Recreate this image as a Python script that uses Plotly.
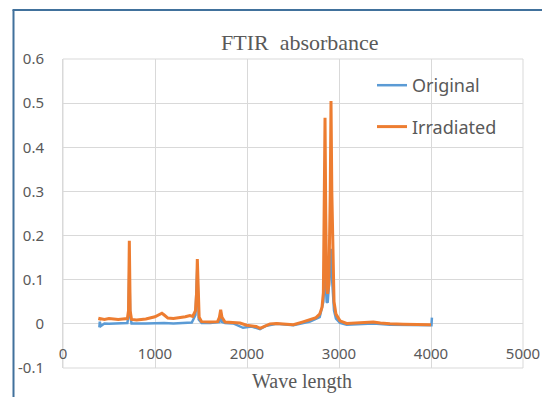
import plotly.graph_objects as go

# ---- data ----
irr_x = [395, 400, 450, 500, 550, 600, 650, 700, 712, 721, 730, 745, 800, 900, 1000,
         1050, 1075, 1100, 1140, 1200, 1270, 1330, 1380, 1410, 1440, 1452, 1460, 1468,
         1480, 1507, 1550, 1600, 1680, 1700, 1714, 1728, 1761, 1850, 1924, 1996, 2050,
         2100, 2141, 2200, 2250, 2322, 2400, 2504, 2600, 2685, 2750, 2790, 2815, 2830,
         2840, 2848, 2856, 2866, 2877, 2890, 2905, 2913, 2922, 2935, 2946, 2967, 3011,
         3083, 3200, 3373, 3450, 3554, 3700, 3850, 3989, 4000]
irr_y = [0.008, 0.012, 0.010, 0.012, 0.011, 0.010, 0.011, 0.012, 0.030, 0.188, 0.030,
         0.010, 0.009, 0.011, 0.016, 0.022, 0.024, 0.020, 0.013, 0.012, 0.014, 0.016,
         0.019, 0.017, 0.030, 0.070, 0.147, 0.060, 0.015, 0.005, 0.004, 0.004, 0.005,
         0.015, 0.032, 0.015, 0.004, 0.003, 0.002, -0.003, -0.004, -0.006, -0.010,
         -0.004, 0.000, 0.001, 0.000, -0.002, 0.004, 0.009, 0.014, 0.022, 0.037, 0.070,
         0.250, 0.467, 0.250, 0.080, 0.068, 0.090, 0.300, 0.505, 0.300, 0.100, 0.050,
         0.022, 0.007, 0.001, 0.002, 0.004, 0.002, 0.000, -0.001, -0.001, -0.002, -0.002]

orig_x = [395, 400, 410, 450, 500, 600, 700, 712, 721, 730, 745, 900, 1000, 1100, 1200,
          1300, 1400, 1440, 1460, 1475, 1507, 1600, 1700, 1714, 1730, 1761, 1850, 1957,
          2050, 2141, 2200, 2322, 2504, 2685, 2790, 2830, 2848, 2866, 2877, 2895, 2905,
          2913, 2925, 2946, 2967, 3011, 3083, 3373, 3554, 3989, 4005, 4010]
orig_y = [-0.008, 0.005, -0.005, 0.001, 0.000, 0.001, 0.002, 0.020, 0.130, 0.020, 0.001,
          0.001, 0.002, 0.002, 0.001, 0.002, 0.003, 0.020, 0.130, 0.010, 0.002, 0.002,
          0.004, 0.020, 0.004, 0.002, 0.001, -0.009, -0.006, -0.012, -0.005, 0.000,
          -0.003, 0.005, 0.015, 0.050, 0.120, 0.050, 0.048, 0.100, 0.165, 0.170, 0.100,
          0.030, 0.012, 0.002, -0.002, 0.001, -0.002, -0.003, -0.003, 0.014]

x_ticks = [0, 1000, 2000, 3000, 4000, 5000]
y_ticks = [-0.1, 0, 0.1, 0.2, 0.3, 0.4, 0.5, 0.6]
y_tick_text = ["-0.1", "0", "0.1", "0.2", "0.3", "0.4", "0.5", "0.6"]

BLUE = "#5B9BD5"
ORANGE = "#ED7D31"
GRID = "#D9D9D9"
TXT = "#595959"
SANS = "Noto Sans, sans-serif"
SERIF = "Liberation Serif, Times New Roman, serif"

fig = go.Figure()
fig.add_trace(go.Scatter(x=orig_x, y=orig_y, mode="lines", name="Original",
                         legendgroup="a", line=dict(color=BLUE, width=2.5)))
fig.add_trace(go.Scatter(x=irr_x, y=irr_y, mode="lines", name="Irradiated",
                         legendgroup="b", line=dict(color=ORANGE, width=3)))

# the page body adds an 8px offset; work in reference window pixels
OFF = 8
WIN_W, WIN_H = 550, 397
PL, PR, PT, PB = 63, 523, 59, 368  # plot area in window pixels
W, H = WIN_W - OFF, WIN_H - OFF
L, T = PL - OFF, PT - OFF
R, B = (WIN_W - OFF) - (PR - OFF), (WIN_H - OFF) - (PB - OFF)
pw, ph = PR - PL, PB - PT


def px2x(px):
    return (px - PL) / pw


def py2y(py):
    return (PB - py) / ph


fig.update_layout(
    width=W, height=H,
    margin=dict(l=L, r=R, t=T, b=B, pad=0, autoexpand=False),
    paper_bgcolor="white", plot_bgcolor="white",
    font=dict(family=SANS, color=TXT, size=15),
    showlegend=True,
    legend=dict(x=px2x(372), y=py2y(67), xanchor="left", yanchor="top",
                bgcolor="rgba(0,0,0,0)", font=dict(size=18, color=TXT),
                tracegroupgap=15, traceorder="grouped"),
    xaxis=dict(range=[0, 5000], tickvals=x_ticks, showgrid=True, gridcolor=GRID,
               gridwidth=1, zeroline=False, showline=False, ticks="",
               anchor="free", position=py2y(343), tickfont=dict(size=15, color=TXT)),
    yaxis=dict(range=[-0.1, 0.6], tickvals=y_ticks, ticktext=y_tick_text,
               showgrid=True, gridcolor=GRID, gridwidth=1, zeroline=False,
               showline=True, linecolor=GRID, linewidth=1, ticks="",
               ticklabelstandoff=15, tickfont=dict(size=15, color=TXT)),
    shapes=[
        dict(type="rect", xref="paper", yref="paper", x0=0, x1=1, y0=0, y1=1,
             line=dict(color=GRID, width=1), layer="below"),
        dict(type="line", xref="paper", yref="paper", x0=px2x(13.5), x1=px2x(13.5),
             y0=py2y(10), y1=py2y(420), line=dict(color="#41719C", width=2)),
        dict(type="line", xref="paper", yref="paper", x0=px2x(12.5), x1=px2x(580),
             y0=py2y(10), y1=py2y(10), line=dict(color="#41719C", width=2)),
    ],
    annotations=[
        dict(text="FTIR  absorbance", xref="paper", yref="paper", x=px2x(300),
             y=py2y(42), xanchor="center", yanchor="middle", showarrow=False,
             font=dict(family=SERIF, size=22, color=TXT)),
        dict(text="Wave length", xref="paper", yref="paper", x=px2x(302),
             y=py2y(381), xanchor="center", yanchor="middle", showarrow=False,
             font=dict(family=SERIF, size=20, color=TXT)),
    ],
)

fig.write_html("out.html")
